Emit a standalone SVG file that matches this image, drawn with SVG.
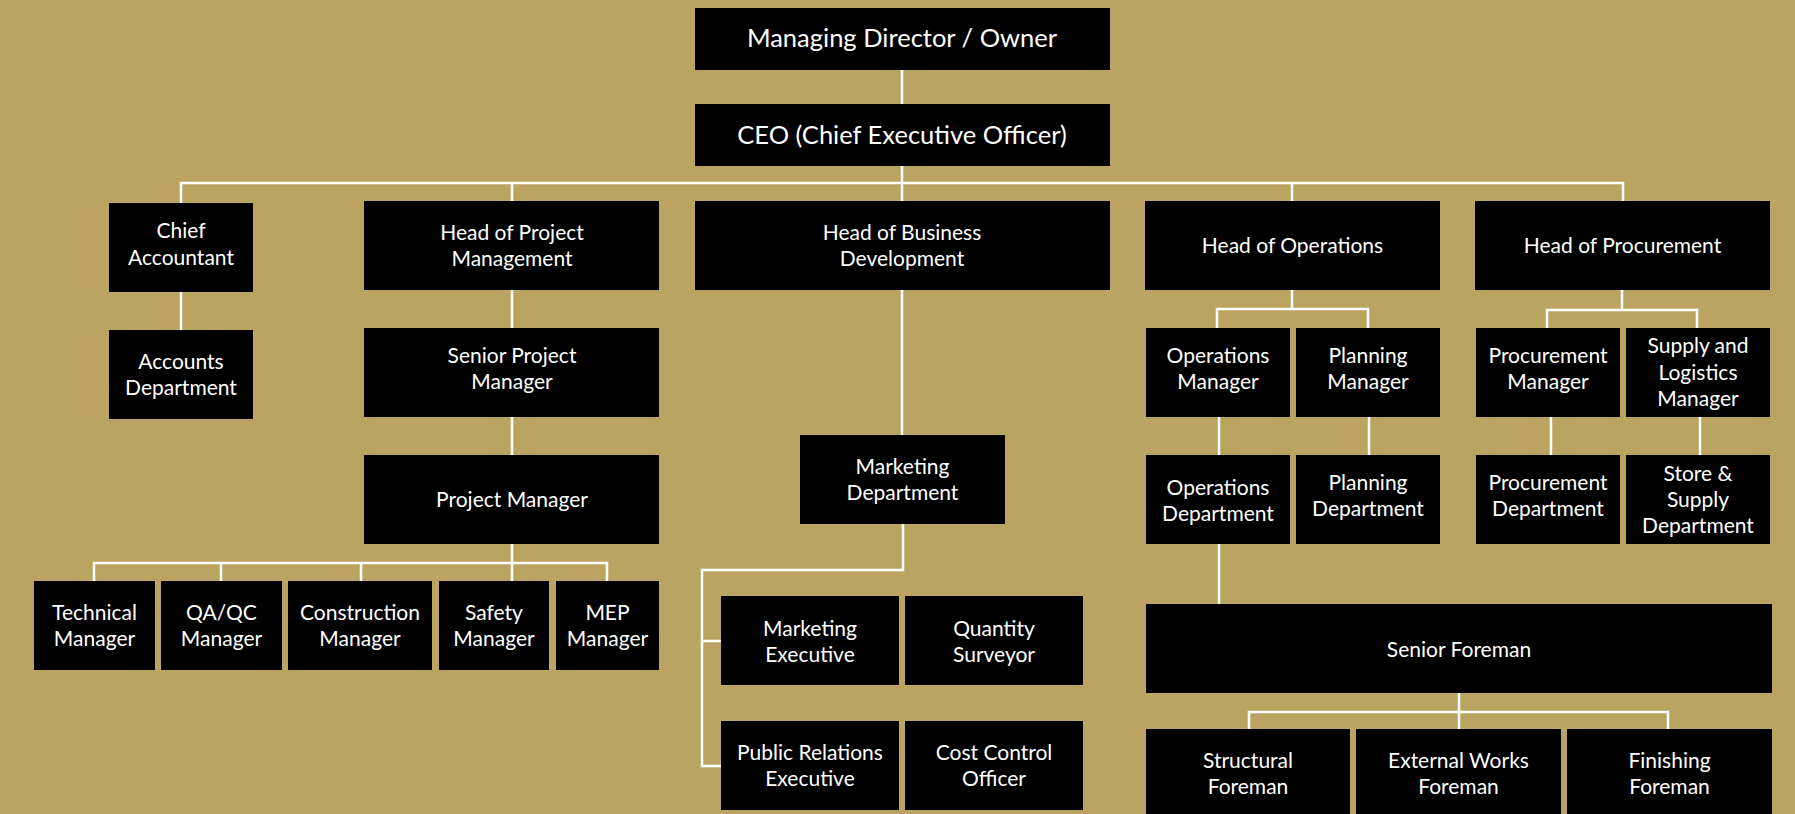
<svg xmlns="http://www.w3.org/2000/svg" width="1795" height="814" viewBox="0 0 1795 814">
<style>
.bg{fill:#BBA361}
.box{fill:#000}
.t{font-family:Lato,"Open Sans",sans-serif;font-size:21px;fill:#fff;text-anchor:middle}
.tl{font-size:25.5px}
.c{fill:none;stroke:#fff;stroke-width:2.5;stroke-linecap:square}
</style>
<rect class="bg" x="0" y="0" width="1795" height="814"/>
<g id="connectors">
<path class="c" d="M902 70V104"/>
<path class="c" d="M902 166V201M181 183H1623M181 183V203M512 183V201M1292 183V201M1623 183V201"/>
<path class="c" d="M181 292V330"/>
<path class="c" d="M512 290V328M512 417V455"/>
<path class="c" d="M512 544V581M94 563H607M94 563V581M221 563V581M361 563V581M607 563V581"/>
<path class="c" d="M902 290V435"/>
<path class="c" d="M903 524V570H702V766H721M702 641H721"/>
<path class="c" d="M1292 290V309M1217 309H1368M1217 309V328M1368 309V328"/>
<path class="c" d="M1219 417V455M1369 417V455"/>
<path class="c" d="M1219 544V604"/>
<path class="c" d="M1459 693V729M1249 712H1668M1249 712V729M1668 712V729"/>
<path class="c" d="M1622 290V310M1547 310H1697M1547 310V328M1697 310V328"/>
<path class="c" d="M1551 417V455M1700 417V455"/>
</g>
<g id="md"><rect class="box" x="695" y="8" width="415" height="62"/><text class="t tl" x="902" y="47">Managing Director / Owner</text></g>
<g id="ceo"><rect class="box" x="695" y="104" width="415" height="62"/><text class="t tl" x="902" y="144">CEO (Chief Executive Officer)</text></g>
<g id="chief-accountant"><rect class="box" x="109" y="203" width="144" height="89"/><text class="t" x="181" y="238">Chief</text><text class="t" x="181" y="265">Accountant</text></g>
<g id="accounts-dept"><rect class="box" x="109" y="330" width="144" height="89"/><text class="t" x="181" y="369">Accounts</text><text class="t" x="181" y="395">Department</text></g>
<g id="head-pm"><rect class="box" x="364" y="201" width="295" height="89"/><text class="t" x="512" y="240">Head of Project</text><text class="t" x="512" y="266">Management</text></g>
<g id="senior-pm"><rect class="box" x="364" y="328" width="295" height="89"/><text class="t" x="512" y="363">Senior Project</text><text class="t" x="512" y="389">Manager</text></g>
<g id="pm"><rect class="box" x="364" y="455" width="295" height="89"/><text class="t" x="512" y="507">Project Manager</text></g>
<g id="tech-mgr"><rect class="box" x="34" y="581" width="121" height="89"/><text class="t" x="94.5" y="620">Technical</text><text class="t" x="94.5" y="646">Manager</text></g>
<g id="qaqc-mgr"><rect class="box" x="161" y="581" width="121" height="89"/><text class="t" x="221.5" y="620">QA/QC</text><text class="t" x="221.5" y="646">Manager</text></g>
<g id="construction-mgr"><rect class="box" x="288" y="581" width="144" height="89"/><text class="t" x="360" y="620">Construction</text><text class="t" x="360" y="646">Manager</text></g>
<g id="safety-mgr"><rect class="box" x="439" y="581" width="110" height="89"/><text class="t" x="494" y="620">Safety</text><text class="t" x="494" y="646">Manager</text></g>
<g id="mep-mgr"><rect class="box" x="556" y="581" width="103" height="89"/><text class="t" x="607.5" y="620">MEP</text><text class="t" x="607.5" y="646">Manager</text></g>
<g id="head-bd"><rect class="box" x="695" y="201" width="415" height="89"/><text class="t" x="902" y="240">Head of Business</text><text class="t" x="902" y="266">Development</text></g>
<g id="marketing-dept"><rect class="box" x="800" y="435" width="205" height="89"/><text class="t" x="902.5" y="474">Marketing</text><text class="t" x="902.5" y="500">Department</text></g>
<g id="marketing-exec"><rect class="box" x="721" y="596" width="178" height="89"/><text class="t" x="810" y="636">Marketing</text><text class="t" x="810" y="662">Executive</text></g>
<g id="quantity-surveyor"><rect class="box" x="905" y="596" width="178" height="89"/><text class="t" x="994" y="636">Quantity</text><text class="t" x="994" y="662">Surveyor</text></g>
<g id="pr-exec"><rect class="box" x="721" y="721" width="178" height="89"/><text class="t" x="810" y="760">Public Relations</text><text class="t" x="810" y="786">Executive</text></g>
<g id="cost-control"><rect class="box" x="905" y="721" width="178" height="89"/><text class="t" x="994" y="760">Cost Control</text><text class="t" x="994" y="786">Officer</text></g>
<g id="head-ops"><rect class="box" x="1145" y="201" width="295" height="89"/><text class="t" x="1292.5" y="253">Head of Operations</text></g>
<g id="ops-mgr"><rect class="box" x="1146" y="328" width="144" height="89"/><text class="t" x="1218" y="363">Operations</text><text class="t" x="1218" y="389">Manager</text></g>
<g id="planning-mgr"><rect class="box" x="1296" y="328" width="144" height="89"/><text class="t" x="1368" y="363">Planning</text><text class="t" x="1368" y="389">Manager</text></g>
<g id="ops-dept"><rect class="box" x="1146" y="455" width="144" height="89"/><text class="t" x="1218" y="495">Operations</text><text class="t" x="1218" y="521">Department</text></g>
<g id="planning-dept"><rect class="box" x="1296" y="455" width="144" height="89"/><text class="t" x="1368" y="490">Planning</text><text class="t" x="1368" y="516">Department</text></g>
<g id="senior-foreman"><rect class="box" x="1146" y="604" width="626" height="89"/><text class="t" x="1459" y="657">Senior Foreman</text></g>
<g id="structural-foreman"><rect class="box" x="1146" y="729" width="204" height="96"/><text class="t" x="1248" y="768">Structural</text><text class="t" x="1248" y="794">Foreman</text></g>
<g id="external-foreman"><rect class="box" x="1356" y="729" width="205" height="96"/><text class="t" x="1458.5" y="768">External Works</text><text class="t" x="1458.5" y="794">Foreman</text></g>
<g id="finishing-foreman"><rect class="box" x="1567" y="729" width="205" height="96"/><text class="t" x="1669.5" y="768">Finishing</text><text class="t" x="1669.5" y="794">Foreman</text></g>
<g id="head-proc"><rect class="box" x="1475" y="201" width="295" height="89"/><text class="t" x="1622.5" y="253">Head of Procurement</text></g>
<g id="proc-mgr"><rect class="box" x="1476" y="328" width="144" height="89"/><text class="t" x="1548" y="363">Procurement</text><text class="t" x="1548" y="389">Manager</text></g>
<g id="supply-mgr"><rect class="box" x="1626" y="328" width="144" height="89"/><text class="t" x="1698" y="353">Supply and</text><text class="t" x="1698" y="380">Logistics</text><text class="t" x="1698" y="406">Manager</text></g>
<g id="proc-dept"><rect class="box" x="1476" y="455" width="144" height="89"/><text class="t" x="1548" y="490">Procurement</text><text class="t" x="1548" y="516">Department</text></g>
<g id="store-dept"><rect class="box" x="1626" y="455" width="144" height="89"/><text class="t" x="1698" y="481">Store &amp;</text><text class="t" x="1698" y="507">Supply</text><text class="t" x="1698" y="533">Department</text></g>
</svg>
